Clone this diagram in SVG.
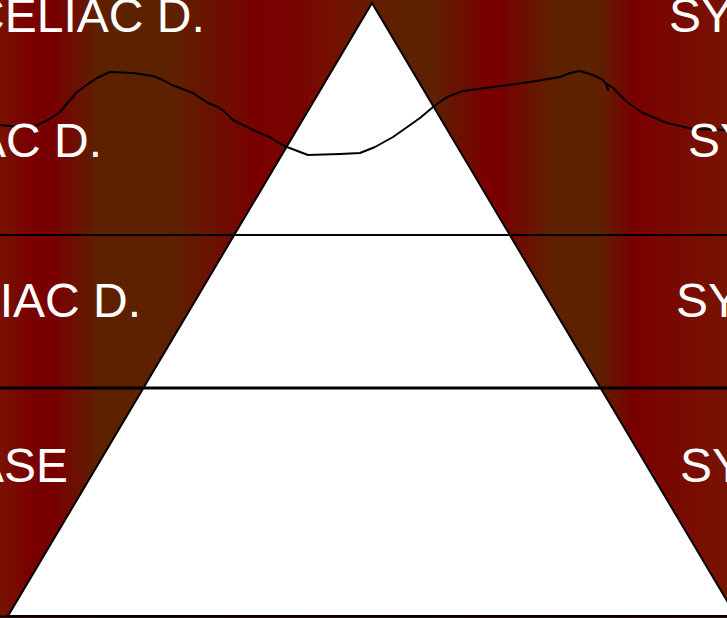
<svg xmlns="http://www.w3.org/2000/svg" width="727" height="618" viewBox="0 0 727 618">
<style>
.lbl{font-family:"Liberation Sans",Arial,sans-serif;font-size:48px;fill:#ffffff}
.ln{stroke:#000;fill:none}
</style>
<defs>
<linearGradient id="bg" gradientUnits="userSpaceOnUse" x1="0" y1="0" x2="727" y2="0">
<stop offset="0" stop-color="#781200"/>
<stop offset="0.025" stop-color="#780800"/>
<stop offset="0.04" stop-color="#790000"/>
<stop offset="0.075" stop-color="#790000"/>
<stop offset="0.135" stop-color="#5e2100"/>
<stop offset="0.235" stop-color="#5e2100"/>
<stop offset="0.355" stop-color="#790000"/>
<stop offset="0.40" stop-color="#790200"/>
<stop offset="0.46" stop-color="#731200"/>
<stop offset="0.54" stop-color="#5e2100"/>
<stop offset="0.595" stop-color="#5e2100"/>
<stop offset="0.67" stop-color="#790000"/>
<stop offset="0.69" stop-color="#790000"/>
<stop offset="0.76" stop-color="#5e2100"/>
<stop offset="0.825" stop-color="#5e2100"/>
<stop offset="0.87" stop-color="#790000"/>
<stop offset="0.895" stop-color="#790400"/>
<stop offset="1" stop-color="#771400"/>
</linearGradient>
</defs>
<rect id="background" x="0" y="0" width="727" height="618" fill="url(#bg)"/>
<g id="pyramid">
<polygon points="372,3 8,616 736,616" fill="#ffffff" stroke="#000" stroke-width="2"/>
</g>
<g id="connectors">
<line class="ln" x1="0" y1="235" x2="727" y2="235" stroke-width="2"/>
<line class="ln" x1="0" y1="388" x2="727" y2="388" stroke-width="3"/>
<line class="ln" x1="0" y1="616.5" x2="727" y2="616.5" stroke-width="2"/>
<path class="ln" stroke-width="2" stroke-linejoin="round" d="M0,125 L20,127 L33,127 L48,120 L60,112 L70,100 L77,92 L88,84 L97,78 L110,72 L133,73 L153,76 L163,80 L172,85 L180,88 L193,93 L208,103 L218,107 L226,113 L233,120 L247,127 L262,134 L270,137 L277,142 L287,147 L308,155 L340,154 L360,153 L375,147 L393,137 L403,130 L420,118 L433,107 L447,97 L463,91 L493,87 L530,82 L560,77 L570,73 L580,71 L593,75 L603,80 L606,84 L608,90 L607,84 L612,87 L617,92 L627,102 L643,113 L667,123 L693,129 L727,130"/>
</g>
<g id="left-labels">
<text class="lbl" x="-30" y="32">CELIAC D.</text>
<text class="lbl" x="-26" y="157">AC D.</text>
<text class="lbl" x="-27" y="317">LIAC D.</text>
<text class="lbl" x="-28" y="482">ASE</text>
</g>
<g id="right-labels">
<text class="lbl" x="669" y="32">SY</text>
<text class="lbl" x="688" y="157">SY</text>
<text class="lbl" x="676" y="317">SY</text>
<text class="lbl" x="680" y="482">SY</text>
</g>
</svg>
